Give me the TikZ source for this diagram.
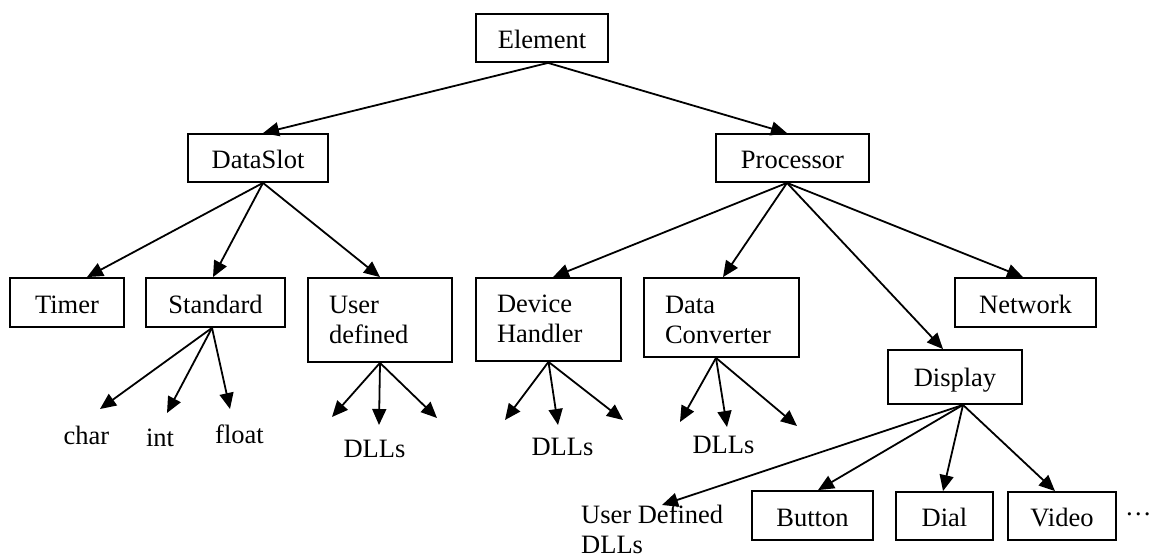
\documentclass[tikz,border=0pt]{standalone}
\usepackage{fontspec}
\setmainfont{Liberation Serif}
\usetikzlibrary{arrows.meta}
\begin{document}
\begin{tikzpicture}[x=1pt,y=-1pt,
  every node/.style={font=\fontsize{26.5}{30}\selectfont},
  box/.style={draw, line width=1.8pt, inner sep=0pt, text height=21.2pt, text depth=0pt},
  mbox/.style={draw, line width=1.8pt, inner sep=0pt, text height=21pt, text depth=35pt},
  lbl/.style={inner sep=0pt, anchor=base},
  arr/.style={line width=1.8pt, -{Triangle[length=16pt,width=14pt]}}]
\useasboundingbox (0,0) rectangle (1152,559);
% boxes
\node[box, minimum width=132pt, minimum height=48pt] (el) at (542,38) {Element};
\node[box, minimum width=140pt, minimum height=48pt] (ds) at (258,158) {DataSlot};
\node[box, minimum width=153pt, minimum height=48pt] (pr) at (792.5,158) {Processor};
\node[box, minimum width=114pt, minimum height=49pt] (ti) at (67,302.5) {Timer};
\node[box, minimum width=139pt, minimum height=49pt] (st) at (215.5,302.5) {Standard};
\node[mbox, minimum width=144pt, minimum height=84pt] (ud) at (380,320) {\begin{tabular}[t]{@{}p{102pt}@{}}User\\defined\end{tabular}};
\node[mbox, minimum width=145pt, minimum height=83pt] (dh) at (548.5,319.5) {\begin{tabular}[t]{@{}p{103pt}@{}}Device\\Handler\end{tabular}};
\node[mbox, text depth=30pt, minimum width=155pt, minimum height=79pt] (dc) at (721.5,317.5) {\begin{tabular}[t]{@{}p{113pt}@{}}Data\\Converter\end{tabular}};
\node[box, minimum width=141pt, minimum height=49pt] (nw) at (1025.5,302.5) {Network};
\node[box, minimum width=134pt, minimum height=54pt, text height=19pt] (dp) at (955,377) {Display};
\node[box, minimum width=121pt, minimum height=49pt] (bt) at (812.5,515.5) {Button};
\node[box, minimum width=97pt, minimum height=48pt] (di) at (944.5,516) {Dial};
\node[box, minimum width=108pt, minimum height=48pt] (vi) at (1062,516) {Video};
% text labels
\node[lbl] (char) at (86.5,444) {char};
\node[lbl] (int) at (160,446) {int};
\node[lbl] (float) at (239.5,443) {float};
\node[lbl] (dll1) at (374.5,457) {DLLs};
\node[lbl] (dll2) at (562.5,455) {DLLs};
\node[lbl] (dll3) at (723.5,453) {DLLs};
\node[inner sep=0pt, anchor=base west, text depth=31pt] (udd) at (581,523) {\begin{tabular}[t]{@{}l@{}}User Defined\\DLLs\end{tabular}};
\node[inner sep=0pt, anchor=base west] (dots) at (1125,515) {…};
% free ends
\coordinate (cchar) at (100,409);
\coordinate (cint) at (167,413);
\coordinate (cfloat) at (230,409);
\coordinate (u1) at (332,417);
\coordinate (u2) at (379,425);
\coordinate (u3) at (437,418);
\coordinate (h1) at (505,420);
\coordinate (h2) at (558,425);
\coordinate (h3) at (623,420);
\coordinate (c1) at (680,422);
\coordinate (c2) at (727,427);
\coordinate (c3) at (797,426);
\coordinate (cudd) at (662,505);
% connectors
\draw[arr] ([xshift=6pt]el.south) -- ([xshift=5pt]ds.north);
\draw[arr] ([xshift=6pt]el.south) -- ([xshift=-5.5pt]pr.north);
\draw[arr] ([xshift=5pt]ds.south) -- ([xshift=20pt]ti.north);
\draw[arr] ([xshift=5pt]ds.south) -- ([xshift=-2.5pt]st.north);
\draw[arr] ([xshift=5pt]ds.south) -- (ud.north);
\draw[arr] ([xshift=-5.5pt]pr.south) -- ([xshift=4.5pt]dh.north);
\draw[arr] ([xshift=-5.5pt]pr.south) -- ([xshift=1.5pt]dc.north);
\draw[arr] ([xshift=-5.5pt]pr.south) -- ([xshift=-12pt]dp.north);
\draw[arr] ([xshift=-5.5pt]pr.south) -- ([xshift=-2.5pt]nw.north);
\draw[arr] ([xshift=-3.5pt]st.south) -- (cchar);
\draw[arr] ([xshift=-3.5pt]st.south) -- (cint);
\draw[arr] ([xshift=-3.5pt]st.south) -- (cfloat);
\draw[arr] (ud.south) -- (u1);
\draw[arr] (ud.south) -- (u2);
\draw[arr] (ud.south) -- (u3);
\draw[arr] (dh.south) -- (h1);
\draw[arr] (dh.south) -- (h2);
\draw[arr] (dh.south) -- (h3);
\draw[arr] ([xshift=-5.5pt]dc.south) -- (c1);
\draw[arr] ([xshift=-5.5pt]dc.south) -- (c2);
\draw[arr] ([xshift=-5.5pt]dc.south) -- (c3);
\draw[arr] ([xshift=8pt]dp.south) -- (cudd);
\draw[arr] ([xshift=8pt]dp.south) -- ([xshift=5.5pt]bt.north);
\draw[arr] ([xshift=8pt]dp.south) -- ([xshift=-1.5pt]di.north);
\draw[arr] ([xshift=8pt]dp.south) -- ([xshift=-7pt]vi.north);
\end{tikzpicture}
\end{document}
